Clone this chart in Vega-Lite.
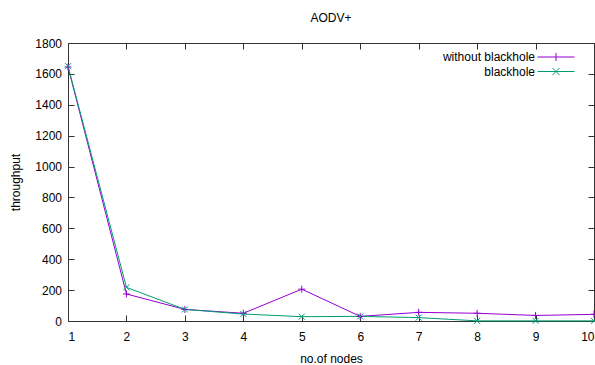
{
  "$schema": "https://vega.github.io/schema/vega-lite/v6.json",
  "width": 526,
  "height": 278,
  "autosize": "none",
  "padding": {"left": 68, "top": 43, "right": 1, "bottom": 44},
  "title": {"text": "AODV+", "fontSize": 12, "fontWeight": "normal", "offset": 12, "color": "#000"},
  "config": {
    "font": "Liberation Sans",
    "view": {"stroke": "#333", "strokeWidth": 1},
    "axis": {
      "domain": false, "grid": false, "tickSize": -6, "tickColor": "#333", "tickWidth": 1,
      "labelFontSize": 12, "labelColor": "#000",
      "titleFontSize": 12, "titleFontWeight": "normal", "titleColor": "#000"
    }
  },
  "data": {"values": [
    {"nodes": 1, "throughput": 1645, "series": "without blackhole"},
    {"nodes": 2, "throughput": 175, "series": "without blackhole"},
    {"nodes": 3, "throughput": 75, "series": "without blackhole"},
    {"nodes": 4, "throughput": 50, "series": "without blackhole"},
    {"nodes": 5, "throughput": 206, "series": "without blackhole"},
    {"nodes": 6, "throughput": 30, "series": "without blackhole"},
    {"nodes": 7, "throughput": 56, "series": "without blackhole"},
    {"nodes": 8, "throughput": 50, "series": "without blackhole"},
    {"nodes": 9, "throughput": 36, "series": "without blackhole"},
    {"nodes": 10, "throughput": 43, "series": "without blackhole"},
    {"nodes": 1, "throughput": 1650, "series": "blackhole"},
    {"nodes": 2, "throughput": 218, "series": "blackhole"},
    {"nodes": 3, "throughput": 75, "series": "blackhole"},
    {"nodes": 4, "throughput": 45, "series": "blackhole"},
    {"nodes": 5, "throughput": 28, "series": "blackhole"},
    {"nodes": 6, "throughput": 30, "series": "blackhole"},
    {"nodes": 7, "throughput": 22, "series": "blackhole"},
    {"nodes": 8, "throughput": 1, "series": "blackhole"},
    {"nodes": 9, "throughput": 1, "series": "blackhole"},
    {"nodes": 10, "throughput": 1, "series": "blackhole"}
  ]},
  "layer": [
    {
      "mark": {"type": "line", "strokeWidth": 1},
      "encoding": {
        "x": {"field": "nodes", "type": "quantitative", "scale": {"domain": [1, 10], "nice": false},
              "axis": {"orient": "bottom", "values": [1,2,3,4,5,6,7,8,9,10], "title": "no.of nodes", "labelPadding": 16, "titlePadding": 11}},
        "y": {"field": "throughput", "type": "quantitative", "scale": {"domain": [0, 1800], "nice": false},
              "axis": {"orient": "left", "values": [0,200,400,600,800,1000,1200,1400,1600,1800], "format": "d", "title": "throughput", "labelPadding": 12.5, "titlePadding": 12}},
        "color": {"field": "series", "type": "nominal",
                  "scale": {"domain": ["without blackhole", "blackhole"], "range": ["#9400D3", "#009E73"]},
                  "legend": {
                    "title": null, "orient": "none", "legendX": 363, "legendY": 8, "padding": 0,
                    "labelAlign": "right", "labelOffset": 92,
                    "symbolSize": 100, "symbolStrokeWidth": 1, "labelFontSize": 12, "labelColor": "#000",
                    "rowPadding": 2.5,
                    "encode": {"symbols": {"update": {
                      "x": {"value": 125},
                      "fill": {"value": "transparent"},
                      "stroke": {"scale": "color", "field": "value"},
                      "shape": {"signal": "datum.value === 'blackhole' ? 'M-3.7,0L3.7,0M-0.7,-0.7L0.7,0.7M-0.7,0.7L0.7,-0.7' : 'M-3.7,0L3.7,0M0,-0.8L0,0.8'"}
                    }}}
                  }}
      }
    },
    {
      "transform": [{"filter": "datum.series === 'without blackhole'"}],
      "mark": {"type": "point", "filled": false, "strokeWidth": 1, "size": 49, "opacity": 1, "shape": "M-1,0L1,0M0,-1L0,1"},
      "encoding": {
        "x": {"field": "nodes", "type": "quantitative",
              "axis": {"orient": "top", "values": [1,2,3,4,5,6,7,8,9,10], "labels": false, "title": null}},
        "y": {"field": "throughput", "type": "quantitative",
              "axis": {"orient": "right", "values": [0,200,400,600,800,1000,1200,1400,1600,1800], "labels": false, "title": null}},
        "color": {"field": "series", "type": "nominal"}
      }
    },
    {
      "transform": [{"filter": "datum.series === 'blackhole'"}],
      "mark": {"type": "point", "filled": false, "strokeWidth": 1, "size": 36, "opacity": 1, "shape": "M-1,-1L1,1M-1,1L1,-1"},
      "encoding": {
        "x": {"field": "nodes", "type": "quantitative", "axis": null},
        "y": {"field": "throughput", "type": "quantitative", "axis": null},
        "color": {"field": "series", "type": "nominal"}
      }
    }
  ],
  "resolve": {"axis": {"x": "independent", "y": "independent"}}
}
